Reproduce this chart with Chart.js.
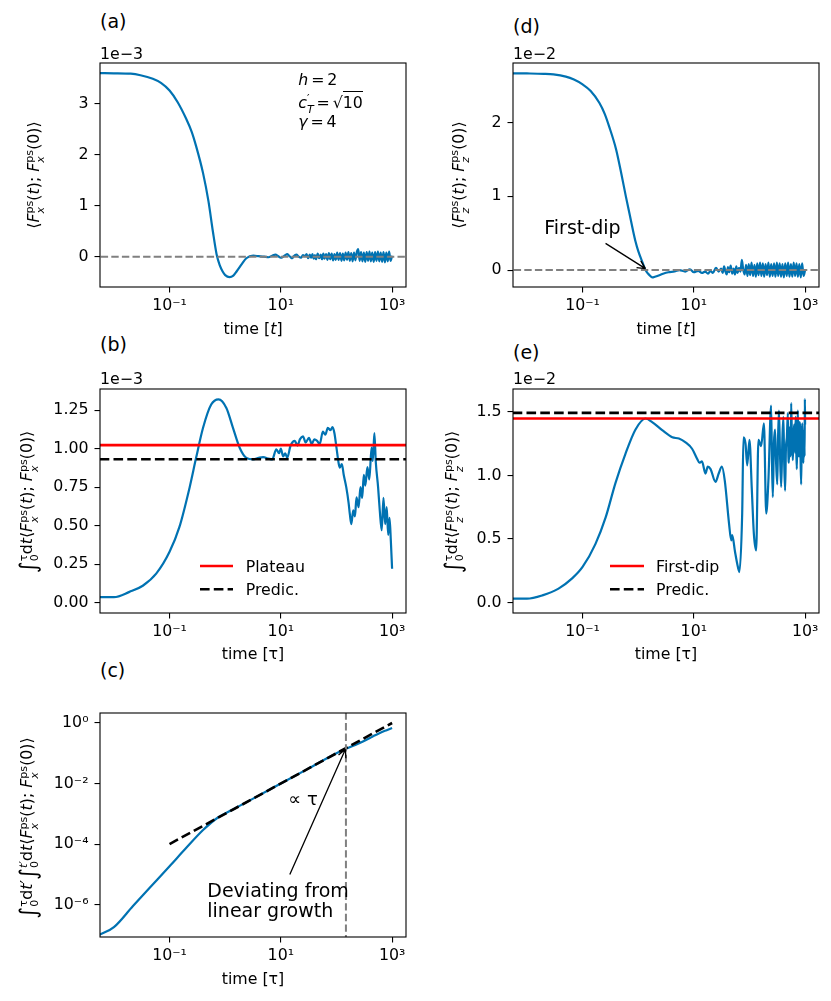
<!DOCTYPE html>
<html>
<head>
<meta charset="utf-8">
<script src="https://cdn.jsdelivr.net/npm/chart.js@4.4.1/dist/chart.umd.min.js"></script>
<style>
  body { margin: 0; background: #fff; width: 831px; height: 1001px; position: relative; overflow: hidden;
         font-family: "DejaVu Sans", sans-serif; color: #000; }
  canvas { position: absolute; }
  .t { position: absolute; white-space: nowrap; }
  .rot { transform: translate(-50%, -50%) rotate(-90deg); font-size: 15.8px; line-height: 1; }
  .ss { display: inline-block; font-size: 0.7em; line-height: 1em; vertical-align: -0.45em; text-align: left; }
  .ss > span { display: block; }
  .int { font-size: 1.45em; vertical-align: -0.14em; }
  .eq { margin: 0 0.18em; }
  .ov { border-top: 1.2px solid #000; padding-top: 1px; }
</style>
</head>
<body>
<script>
// ---- data ----
const xTicks = [0.1, 10, 1000];

// (a) <F_x(t);F_x(0)>, units of 1e-3
const tA = [0.0055, 0.01, 0.02, 0.03, 0.05, 0.07, 0.1, 0.14, 0.2, 0.25, 0.3, 0.4, 0.5, 0.6, 0.7, 0.8, 0.9, 1.0,
            1.2, 1.4, 1.6, 2.0, 2.4, 3.2, 4.0, 5.0, 6.0, 7, 8, 9, 10, 11, 12, 13, 14, 15, 16, 17, 19, 21, 23, 25, 27, 29];
const fA = [3.60, 3.598, 3.59, 3.56, 3.49, 3.41, 3.26, 3.03, 2.70, 2.45, 2.17, 1.64, 1.09, 0.50, 0.05, -0.17, -0.29, -0.36,
            -0.40, -0.37, -0.29, -0.14, -0.03, 0.02, 0.01, 0.0, -0.01, 0.02, 0.04, 0.01, -0.02, 0.0, 0.03, 0.05, 0.02, -0.01, -0.03, 0.01, 0.04, 0.0, -0.02, 0.03, 0.01, 0.05];

// noisy tail times shared by (a) and (d)
const tTail = [31, 33, 35, 37, 39, 41, 43, 46, 49, 52, 55, 58, 61, 65, 69, 73, 77, 82, 87, 92,
               97, 103, 109, 116, 123, 130, 138, 146, 155, 164, 174, 184, 195, 207, 219, 232, 246, 261, 277, 293,
               311, 329, 349, 370, 392, 415, 440, 467, 495, 524, 556, 589, 624, 662, 701, 743, 788, 835, 885, 938, 1000];
const fATail = [-0.03, 0.04, -0.02, 0.05, -0.04, 0.03, -0.05, 0.06, -0.03, 0.04,
                -0.05, 0.06, -0.04, 0.05, -0.06, 0.07, -0.05, 0.06, -0.07, 0.05,
                -0.06, 0.08, -0.06, 0.07, -0.08, 0.06, -0.07, 0.08, -0.06, 0.09,
                -0.08, 0.07, -0.09, 0.08, -0.07, 0.09, 0.15, -0.08, 0.09, -0.09,
                0.08, -0.10, 0.09, -0.08, 0.10, -0.09, 0.08, -0.10, 0.09, -0.08,
                0.10, -0.09, 0.08, -0.10, 0.09, -0.11, 0.08, -0.09, 0.10, -0.08, 0.02];

// (d) <F_z(t);F_z(0)>, units of 1e-2
const tD = [0.0055, 0.01, 0.02, 0.03, 0.05, 0.07, 0.1, 0.14, 0.2, 0.25, 0.3, 0.4, 0.5, 0.6, 0.7, 0.8, 0.9, 1.0, 1.2, 1.35,
            1.6, 1.8, 2.0, 2.4, 2.8, 3.5, 4.5, 5.5, 7, 8.5, 10, 12, 14, 16, 18, 20, 22, 25, 28];
const fD = [2.67, 2.668, 2.663, 2.655, 2.625, 2.585, 2.52, 2.43, 2.27, 2.12, 1.95, 1.64, 1.30, 1.00, 0.76, 0.55, 0.38, 0.26, 0.10, 0.0,
            -0.07, -0.10, -0.09, -0.07, -0.05, -0.03, -0.02, 0.0, -0.02, 0.01, -0.03, -0.01, -0.04, -0.02, -0.05, -0.01, -0.04, 0.03, -0.02];
const fDTail = [0.02, -0.04, 0.05, -0.02, -0.06, 0.04, -0.03, 0.06, -0.05, 0.02,
                -0.06, 0.05, -0.04, 0.03, -0.02, 0.14, 0.01, -0.06, 0.07, -0.08,
                0.08, -0.07, 0.10, -0.08, 0.07, -0.09, 0.09, -0.07, 0.10, -0.08,
                0.09, -0.09, 0.08, -0.07, 0.10, -0.09, 0.08, -0.08, 0.09, -0.09,
                0.10, -0.08, 0.09, -0.09, 0.08, -0.10, 0.09, -0.08, 0.10, -0.09,
                0.08, -0.09, 0.10, -0.08, 0.09, -0.09, 0.08, -0.10, 0.09, -0.08, 0.0];

// (b) running integral of (a), units of 1e-3
const tB = [0.0055, 0.01, 0.019, 0.033, 0.058, 0.1, 0.15, 0.23, 0.3, 0.4, 0.56, 0.76, 1.05, 1.38, 1.82, 2.4, 3.2, 4.0, 4.8, 6.0,
            7.0, 8.3, 9.3, 10, 11, 12, 13, 15, 17.8, 20, 22, 25, 28, 32, 36, 40, 45, 50, 57, 63,
            70, 78, 85, 92, 100, 105, 110, 115, 125, 135, 150, 165, 174, 185, 200, 215, 229, 250, 270, 290,
            310, 330, 360, 390, 427, 450, 480, 510, 560, 600, 650, 700, 750, 800, 850, 900, 950, 1000];
const fB = [0.036, 0.036, 0.07, 0.11, 0.19, 0.33, 0.49, 0.75, 0.94, 1.135, 1.286, 1.32, 1.264, 1.135, 1.006, 0.94, 0.93, 0.94, 0.945, 0.935,
            0.93, 0.995, 0.97, 1.0, 0.95, 0.97, 0.94, 1.02, 1.05, 1.02, 1.06, 1.08, 1.04, 1.07, 1.03, 1.06, 1.05, 1.03, 1.11, 1.09,
            1.135, 1.12, 1.14, 1.10, 1.006, 0.95, 0.90, 0.877, 0.90, 0.83, 0.75, 0.65, 0.575, 0.51, 0.60, 0.56, 0.683, 0.62, 0.75, 0.68,
            0.83, 0.76, 0.88, 0.80, 1.006, 0.92, 1.10, 0.91, 0.75, 0.60, 0.47, 0.68, 0.51, 0.62, 0.44, 0.55, 0.40, 0.22];
const plateauB = 1.023;
const predicB = 0.931;

// (e) running integral of (d), units of 1e-2
const tE = [0.0055, 0.01, 0.019, 0.037, 0.065, 0.1, 0.17, 0.26, 0.39, 0.59, 0.89, 1.35, 1.78, 2.7, 4.1, 5.4, 7.1, 9.3, 11.5, 12.6,
            14, 16.2, 17.8, 20, 24.5, 28, 32, 36, 43, 47, 49, 55, 60, 66, 74, 78, 85, 91, 100, 110,
            120, 132, 145, 162, 182, 200, 219];
const fE = [0.031, 0.031, 0.057, 0.11, 0.19, 0.28, 0.46, 0.67, 0.94, 1.17, 1.36, 1.448, 1.42, 1.356, 1.30, 1.29, 1.26, 1.21, 1.13, 1.10,
            1.11, 1.015, 1.07, 1.05, 0.95, 1.015, 1.07, 0.96, 0.62, 0.49, 0.53, 0.40, 0.31, 0.24, 0.70, 1.30, 1.25, 1.08, 1.28, 0.90,
            0.54, 0.41, 1.28, 1.23, 1.41, 0.70, 0.96];
const tETail = [245, 254, 263, 275, 288, 300, 316, 327, 339, 355, 372, 390, 407, 420, 437, 453, 470, 490, 500, 513,
                527, 540, 550, 562, 582, 603, 620, 640, 658, 676, 693, 710, 725, 741, 760, 780, 796, 813, 830, 850,
                870, 891, 912, 933, 950, 965, 978, 990, 1000];
const fETail = [1.55, 1.10, 0.83, 1.25, 1.36, 1.12, 0.93, 1.30, 1.51, 1.15, 0.91, 1.28, 1.46, 1.12, 0.88, 1.22, 1.30, 1.49, 1.18, 1.10,
                1.35, 1.38, 1.15, 1.57, 1.25, 1.12, 1.33, 1.40, 1.18, 1.46, 1.22, 1.05, 1.30, 1.51, 1.20, 1.15, 1.42, 1.38, 1.12, 0.93,
                1.30, 1.41, 1.18, 1.10, 1.32, 1.35, 1.15, 1.60, 1.40];
const firstDipE = 1.448;
const predicE = 1.492;

// (c) double integral, log-log
const tC = [0.0055, 0.01, 0.022, 0.044, 0.1, 0.2, 0.4, 0.7, 1.0, 1.4, 3, 10, 30, 100, 148, 250, 347, 450, 603, 800, 1000];
const fC = [1.0e-7, 1.8e-7, 9.0e-7, 3.6e-6, 1.85e-5, 7.5e-5, 2.9e-4, 7.0e-4, 1.02e-3, 1.42e-3, 3.0e-3, 1.0e-2, 3.0e-2, 0.1, 0.14, 0.21, 0.28, 0.36, 0.47, 0.58, 0.68];
const fitT = [0.1, 1000];
const fitF = [1e-4, 1];
const tDeviate = 148;

// ---- helpers ----
const BLUE = '#0072b2';
const SUP = { '-': '\u207B', '0': '\u2070', '1': '\u00B9', '2': '\u00B2', '3': '\u00B3', '4': '\u2074', '5': '\u2075', '6': '\u2076' };
const logLabel = v => '10' + String(Math.round(Math.log10(v))).split('').map(c => SUP[c]).join('');
const pts = (xs, ys) => xs.map((x, i) => ({ x, y: ys[i] }));
const FONT = { family: '"DejaVu Sans"', size: 15.8 };

const boxPlugin = {
  id: 'box',
  afterDatasetsDraw(chart) {
    const a = chart.chartArea, c = chart.ctx;
    c.save();
    c.strokeStyle = '#000';
    c.lineWidth = 1.1;
    c.strokeRect(a.left, a.top, a.right - a.left, a.bottom - a.top);
    c.restore();
  }
};

const legendPlugin = {
  id: 'mplLegend',
  afterDraw(chart, args, opts) {
    if (!opts || opts.x === undefined) return;
    const a = chart.chartArea, c = chart.ctx;
    chart.data.datasets.filter(d => d.legendLabel).forEach((d, i) => {
      const x = a.left + opts.x, y = a.top + opts.y + i * opts.gap;
      c.save();
      c.strokeStyle = d.borderColor;
      c.lineWidth = d.borderWidth;
      c.setLineDash(d.borderDash || []);
      c.beginPath(); c.moveTo(x, y); c.lineTo(x + opts.len, y); c.stroke();
      c.restore();
      c.fillStyle = '#000';
      c.font = '15.8px "DejaVu Sans"';
      c.textBaseline = 'alphabetic';
      c.fillText(d.legendLabel, x + opts.len + opts.pad, y + 5.8);
    });
  }
};

const arrowPlugin = {
  id: 'arrows',
  afterDraw(chart, args, opts) {
    const list = (opts && opts.list) || [];
    const c = chart.ctx, xs = chart.scales.x, ys = chart.scales.y;
    list.forEach(ar => {
      const x0 = xs.getPixelForValue(ar.from[0]), y0 = ys.getPixelForValue(ar.from[1]);
      const x1 = xs.getPixelForValue(ar.to[0]), y1 = ys.getPixelForValue(ar.to[1]);
      const ang = Math.atan2(y1 - y0, x1 - x0), L = 8, W = 4;
      c.save();
      c.strokeStyle = '#000';
      c.lineWidth = 1.3;
      c.beginPath();
      c.moveTo(x0, y0); c.lineTo(x1, y1);
      [-1, 1].forEach(s => {
        c.moveTo(x1 - L * Math.cos(ang) - s * W * Math.sin(ang), y1 - L * Math.sin(ang) + s * W * Math.cos(ang));
        c.lineTo(x1, y1);
      });
      c.stroke();
      c.restore();
    });
  }
};

function panel(box, cfg) {
  const [L, T, R, B] = box;
  const padL = 90, padT = 15, padR = 25, padB = 45;
  const W = R - L + padL + padR, H = B - T + padT + padB;
  const cv = document.createElement('canvas');
  cv.width = W; cv.height = H;
  cv.style.left = (L - padL) + 'px'; cv.style.top = (T - padT) + 'px';
  cv.style.width = W + 'px'; cv.style.height = H + 'px';
  document.body.appendChild(cv);

  const grid = { display: true, drawOnChartArea: false, drawTicks: true, tickLength: 5.5, tickWidth: 1.1, tickColor: '#000', color: '#000', lineWidth: 1.1 };
  new Chart(cv.getContext('2d'), {
    type: 'line',
    data: { datasets: cfg.datasets },
    options: {
      responsive: false, animation: false, devicePixelRatio: 1,
      layout: { padding: { left: 0, top: padT, right: padR, bottom: 0 } },
      elements: { point: { radius: 0 }, line: { tension: 0, borderCapStyle: 'butt', borderJoinStyle: 'round' } },
      plugins: { legend: { display: false }, tooltip: { enabled: false },
                 mplLegend: cfg.legend || {}, arrows: { list: cfg.arrows || [] } },
      scales: {
        x: {
          type: 'logarithmic', position: 'bottom', min: 0.00562, max: 1778, bounds: 'data',
          afterBuildTicks: s => { s.ticks = xTicks.map(v => ({ value: v })); },
          afterFit: s => { s.height = padB; s.paddingLeft = 0; s.paddingRight = 0; },
          ticks: { callback: v => logLabel(v), color: '#000', font: FONT, padding: 4, autoSkip: false, maxRotation: 0, minRotation: 0 },
          grid, border: { display: false }
        },
        y: {
          type: cfg.yType || 'linear', position: 'left', min: cfg.yMin, max: cfg.yMax, bounds: 'data',
          afterBuildTicks: s => { s.ticks = cfg.yTicks.map(v => ({ value: v })); },
          afterFit: s => { s.width = padL; s.paddingTop = 0; s.paddingBottom = 0; },
          ticks: { callback: cfg.yFmt, color: '#000', font: FONT, padding: 6, autoSkip: false },
          grid, border: { display: false }
        }
      }
    },
    plugins: [boxPlugin, legendPlugin, arrowPlugin]
  });
}

const curve = (xs, ys) => ({ data: pts(xs, ys), borderColor: BLUE, borderWidth: 2.2, fill: false, cubicInterpolationMode: 'monotone' });
const hline = (v, color, w, dash, label) => ({ data: pts([1e-3, 1e4], [v, v]), borderColor: color, borderWidth: w,
                                               borderDash: dash, fill: false, clip: 0, legendLabel: label });
const DASH_GREY = [7.4, 3.2], DASH_BLACK = [9.6, 4.2];

// (a)
panel([100, 63, 406, 287], {
  yMin: -0.594, yMax: 3.80, yTicks: [0, 1, 2, 3], yFmt: v => String(v),
  datasets: [hline(0, '#808080', 2, DASH_GREY), curve(tA.concat(tTail), fA.concat(fATail))]
});
// (d)
panel([513, 63, 819, 287], {
  yMin: -0.23, yMax: 2.81, yTicks: [0, 1, 2], yFmt: v => String(v),
  datasets: [hline(0, '#808080', 2, DASH_GREY), curve(tD.concat(tTail), fD.concat(fDTail))],
  arrows: [{ from: [0.259, 0.362], to: [1.35, 0.02] }]
});
// (b)
panel([100, 389, 406, 613], {
  yMin: -0.067, yMax: 1.387, yTicks: [0, 0.25, 0.5, 0.75, 1.0, 1.25], yFmt: v => v.toFixed(2),
  datasets: [hline(plateauB, '#ff0000', 2.6, [], 'Plateau'), hline(predicB, '#000', 2.6, DASH_BLACK, 'Predic.'), curve(tB, fB)],
  legend: { x: 100, y: 177, gap: 23.3, len: 33, pad: 12.7 }
});
// (e)
panel([513, 389, 819, 613], {
  yMin: -0.082, yMax: 1.68, yTicks: [0, 0.5, 1.0, 1.5], yFmt: v => v.toFixed(1),
  datasets: [hline(firstDipE, '#ff0000', 2.6, [], 'First-dip'), hline(predicE, '#000', 2.6, DASH_BLACK, 'Predic.'),
             curve(tE.concat(tETail), fE.concat(fETail))],
  legend: { x: 97, y: 177, gap: 23.3, len: 34, pad: 12 }
});
// (c)
panel([100, 713, 406, 937], {
  yType: 'logarithmic', yMin: 8.5e-8, yMax: 2.14, yTicks: [1e-6, 1e-4, 1e-2, 1], yFmt: v => logLabel(v),
  datasets: [
    { data: pts([tDeviate, tDeviate], [1e-9, 10]), borderColor: '#808080', borderWidth: 2, borderDash: DASH_GREY, fill: false, clip: 0 },
    { data: pts(fitT, fitF), borderColor: '#000', borderWidth: 2.6, borderDash: DASH_BLACK, fill: false },
    curve(tC, fC)
  ],
  arrows: [{ from: [14.5, 9.8e-6], to: [145, 0.135] }]
});

// ---- text ----
function text(html, x, base, size, center) {
  const d = document.createElement('div');
  d.className = 't';
  d.innerHTML = html;
  d.style.fontSize = size + 'px';
  d.style.lineHeight = size + 'px';
  d.style.left = x + 'px';
  d.style.top = (base - 0.846 * size) + 'px';
  if (center) d.style.transform = 'translateX(-50%)';
  document.body.appendChild(d);
}
function ylabel(html, cx, cy) {
  const d = document.createElement('div');
  d.className = 't rot';
  d.innerHTML = html;
  d.style.left = cx + 'px';
  d.style.top = cy + 'px';
  document.body.appendChild(d);
}

const Fx = '<i>F</i><span class="ss"><span>ps</span><span><i>x</i></span></span>';
const Fz = '<i>F</i><span class="ss"><span>ps</span><span><i>z</i></span></span>';
const corr = F => '\u27E8' + F + '(<i>t</i>); ' + F + '(0)\u27E9';
const integ = up => '<span class="int">\u222B</span><span class="ss"><span>' + up + '</span><span>0</span></span>';

text('(a)', 100, 27.7, 19);
text('(d)', 513, 32.7, 19);
text('(b)', 100, 351.1, 19);
text('(e)', 513, 359.4, 19);
text('(c)', 100, 677.5, 19);

text('1e\u22123', 100, 59, 15.8);
text('1e\u22122', 513, 59, 15.8);
text('1e\u22123', 100, 384, 15.8);
text('1e\u22122', 513, 384, 15.8);

text('time [<i>t</i>]', 253, 334, 15.8, true);
text('time [<i>t</i>]', 666, 334, 15.8, true);
text('time [\u03C4]', 253, 659.6, 15.8, true);
text('time [\u03C4]', 666, 659.6, 15.8, true);
text('time [\u03C4]', 253, 984.6, 15.8, true);

ylabel(corr(Fx), 35, 175);
ylabel(corr(Fz), 460, 175);
ylabel(integ('\u03C4') + 'd<i>t</i>' + corr(Fx), 28, 502);
ylabel(integ('\u03C4') + 'd<i>t</i>' + corr(Fz), 453, 502);
ylabel(integ('\u03C4') + 'd<i>t</i>\u2032' + integ('<i>t</i>\u2032') + 'd<i>t</i>' + corr(Fx), 28, 828);

text('<i>h</i><span class="eq">=</span>2', 298.3, 85.7, 15.8);
text('<i>c</i><span class="ss"><span>\u2032</span><span><i>T</i></span></span><span class="eq">=</span>\u221A<span class="ov">10</span>', 298.3, 106.7, 15.8);
text('<i>\u03B3</i><span class="eq">=</span>4', 298.3, 127.7, 15.8);

text('First-dip', 544.3, 233.9, 19);
text('\u221D \u03C4', 288.3, 805, 18);
text('Deviating from', 207.3, 896.7, 19);
text('linear growth', 207.3, 917.3, 19);
</script>
</body>
</html>
